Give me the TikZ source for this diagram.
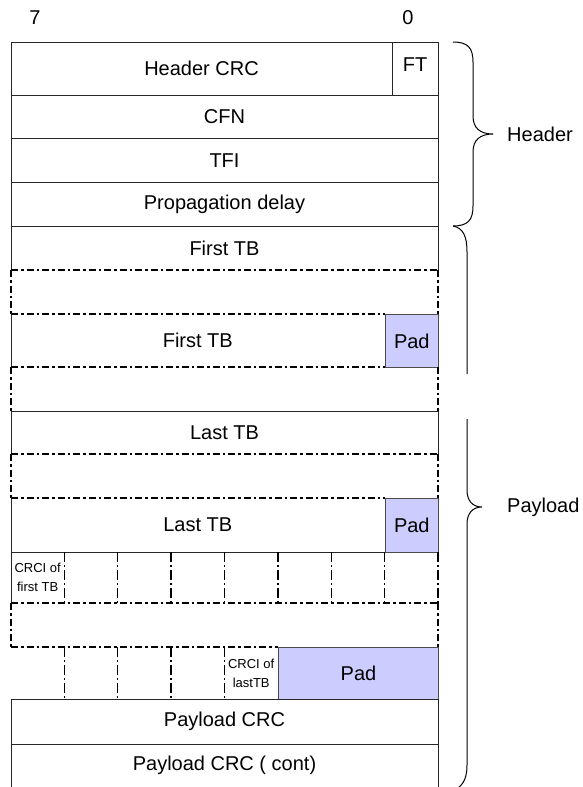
\documentclass[tikz,border=0pt]{standalone}
\usepackage{fontspec}
\setmainfont{Liberation Sans}
\definecolor{padblue}{HTML}{CCCCFF}
\begin{document}
\begin{tikzpicture}[x=1pt,y=-1pt,
  solidline/.style={line width=0.9pt, draw=black!85},
  ddline/.style={line width=1.3pt, draw=black, dash pattern=on 7pt off 3pt on 2.5pt off 3pt},
  vdash/.style={line width=1.3pt, draw=black, dash pattern=on 10pt off 3pt on 2pt off 3pt},
  padbox/.style={fill=padblue, draw=black!70, line width=1pt, inner sep=0pt, font=\fontsize{20}{22}\selectfont},
  lbl/.style={font=\fontsize{20}{22}\selectfont, inner sep=0pt},
  smalltxt/.style={font=\fontsize{13}{19}\selectfont, align=center, inner sep=0pt},
  bracepath/.style={line width=1pt, draw=black}]
\useasboundingbox (0,0) rectangle (583,787);
\clip (0,0) rectangle (583,787);
% header block
\draw[solidline] (11,42) -- (438,42);
\draw[solidline] (11,42) -- (11,270);
\draw[solidline] (438,42) -- (438,270);
\draw[solidline] (392,42) -- (392,95);
\foreach \yy in {95,138.5,182.5,226} \draw[solidline] (11,\yy) -- (438,\yy);
% first dashed gap
\draw[ddline] (11,270) -- (438,270);
\draw[ddline] (11,270) -- (11,314);
\draw[ddline] (438,270) -- (438,314);
\draw[ddline] (11,314) -- (384.6,314);
\draw[solidline] (11,314) -- (11,367);
\node[padbox, minimum width=53.4pt, minimum height=53pt, anchor=north west] (pad1) at (384.6,314) {Pad};
\draw[ddline] (11,367) -- (384.6,367);
\draw[ddline] (11,367) -- (11,411);
\draw[ddline] (438,367) -- (438,411);
% last TB
\draw[solidline] (11,411) -- (438,411);
\draw[solidline] (11,411) -- (11,454);
\draw[solidline] (438,411) -- (438,454);
\draw[ddline] (11,454) -- (438,454);
\draw[ddline] (11,454) -- (11,498);
\draw[ddline] (438,454) -- (438,498);
\draw[ddline] (11,498) -- (384.6,498);
\draw[solidline] (11,498) -- (11,552);
\node[padbox, minimum width=53.4pt, minimum height=54pt, anchor=north west] (pad2) at (384.6,498) {Pad};
\draw[solidline] (11,552) -- (384.6,552);
% CRCI row
\draw[solidline] (11,552) -- (11,603);
\foreach \xx in {64.4,117.8,171.1,224.5,277.9,331.3,384.6,438} \draw[vdash] (\xx,552) -- (\xx,603);
\draw[ddline] (11,603) -- (438,603);
\draw[ddline] (11,603) -- (11,647);
\draw[ddline] (438,603) -- (438,647);
\draw[ddline] (11,647) -- (277.9,647);
\foreach \xx in {64.4,117.8,171.1,224.5} \draw[vdash] (\xx,647) -- (\xx,699);
\node[padbox, minimum width=160.1pt, minimum height=52pt, anchor=north west] (pad3) at (277.9,647) {Pad};
% payload CRC
\draw[solidline] (11,699) -- (438,699);
\draw[solidline] (11,744) -- (438,744);
\draw[solidline] (11,699) -- (11,790);
\draw[solidline] (438,699) -- (438,790);
% texts
\node[lbl] (b7) at (35,18) {7};
\node[lbl] (b0) at (408,18) {0};
\node[lbl] (hcrc) at (201.5,68.5) {Header CRC};
\node[lbl] (ft) at (415,65) {FT};
\node[lbl] (cfn) at (224.5,116.5) {CFN};
\node[lbl] (tfi) at (224.5,160.5) {TFI};
\node[lbl] (pd) at (224.5,204.5) {Propagation delay};
\node[lbl] (ftb1) at (224.5,248) {First TB};
\node[lbl] (ftb2) at (197.8,340.5) {First TB};
\node[lbl] (ltb1) at (224.5,432.5) {Last TB};
\node[lbl] (ltb2) at (197.8,525) {Last TB};
\node[smalltxt] (c1) at (37.7,577.5) {CRCI of\\first TB};
\node[smalltxt] (c2) at (251.2,673) {CRCI of\\lastTB};
\node[lbl] (pcrc) at (224.5,721.5) {Payload CRC};
\node[lbl] (pcrc2) at (224.5,765.5) {Payload CRC ( cont)};
% braces
\draw[bracepath] (453,42) .. controls (468,42) and (473,48) .. (473,62) -- (473,116) .. controls (473,128) and (480,134) .. (493,134) .. controls (480,134) and (473,140) .. (473,152) -- (473,206) .. controls (473,220) and (468,226) .. (453,226);
\draw[bracepath] (453,226) .. controls (463,228) and (467,236) .. (467,252) -- (467,374);
\draw[bracepath] (467,419) -- (467,490) .. controls (467,500) and (472,507) .. (482,507) .. controls (472,507) and (467,514) .. (467,524) -- (467,765) .. controls (467,780) and (462,788) .. (450,792);
\node[lbl, anchor=west] (hdr) at (507,134) {Header};
\node[lbl, anchor=west] (pay) at (507,507) {Payload};
\end{tikzpicture}
\end{document}
